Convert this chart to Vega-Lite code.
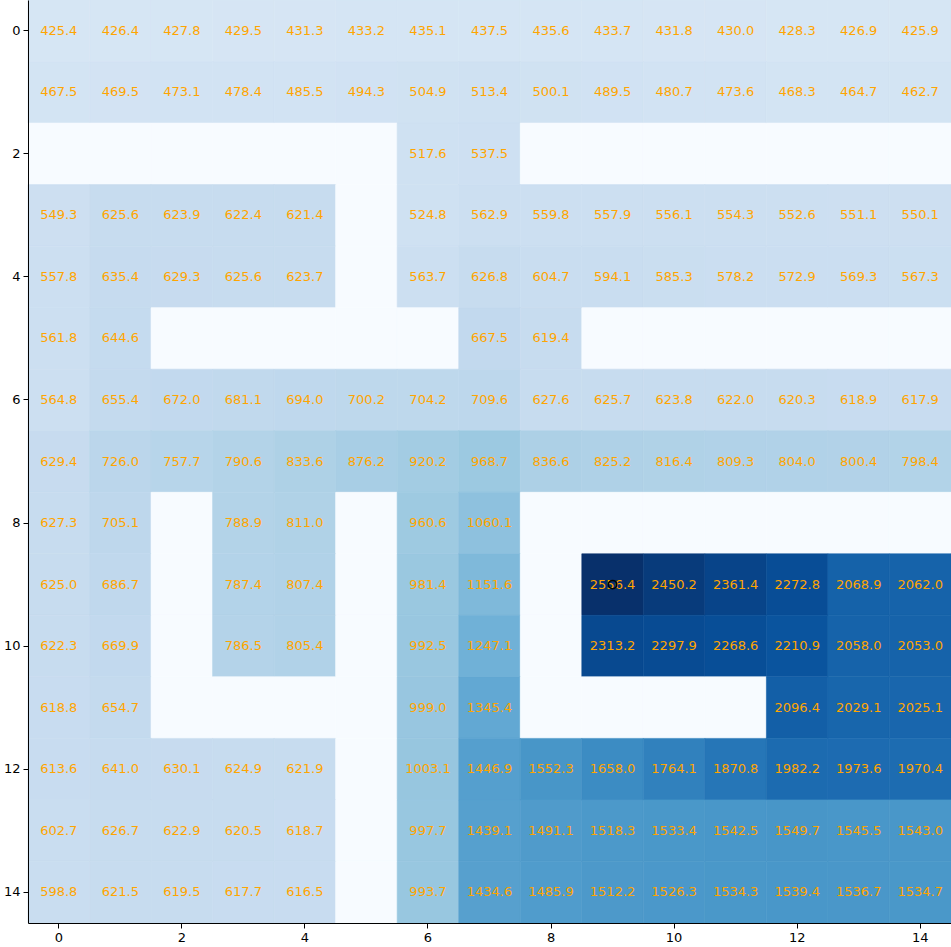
{
  "$schema": "https://vega.github.io/schema/vega-lite/v6.json",
  "width": 923,
  "height": 923,
  "autosize": {"type": "none"},
  "padding": {"left": 28, "top": 0, "right": 0, "bottom": 24},
  "background": "white",
  "config": {
    "view": {"stroke": null},
    "font": "DejaVu Sans",
    "axis": {
      "grid": false,
      "domainColor": "black",
      "domainWidth": 1,
      "tickColor": "black",
      "tickSize": 5,
      "tickWidth": 1,
      "labelColor": "black",
      "labelFontSize": 13,
      "labelFont": "DejaVu Sans",
      "labelPadding": 3,
      "title": null
    }
  },
  "datasets": {
    "cells": [
      {"r":0,"c":0,"v":425.4},{"r":0,"c":1,"v":426.4},{"r":0,"c":2,"v":427.8},{"r":0,"c":3,"v":429.5},{"r":0,"c":4,"v":431.3},{"r":0,"c":5,"v":433.2},{"r":0,"c":6,"v":435.1},{"r":0,"c":7,"v":437.5},{"r":0,"c":8,"v":435.6},{"r":0,"c":9,"v":433.7},{"r":0,"c":10,"v":431.8},{"r":0,"c":11,"v":430.0},{"r":0,"c":12,"v":428.3},{"r":0,"c":13,"v":426.9},{"r":0,"c":14,"v":425.9},
      {"r":1,"c":0,"v":467.5},{"r":1,"c":1,"v":469.5},{"r":1,"c":2,"v":473.1},{"r":1,"c":3,"v":478.4},{"r":1,"c":4,"v":485.5},{"r":1,"c":5,"v":494.3},{"r":1,"c":6,"v":504.9},{"r":1,"c":7,"v":513.4},{"r":1,"c":8,"v":500.1},{"r":1,"c":9,"v":489.5},{"r":1,"c":10,"v":480.7},{"r":1,"c":11,"v":473.6},{"r":1,"c":12,"v":468.3},{"r":1,"c":13,"v":464.7},{"r":1,"c":14,"v":462.7},
      {"r":2,"c":0,"v":0},{"r":2,"c":1,"v":0},{"r":2,"c":2,"v":0},{"r":2,"c":3,"v":0},{"r":2,"c":4,"v":0},{"r":2,"c":5,"v":0},{"r":2,"c":6,"v":517.6},{"r":2,"c":7,"v":537.5},{"r":2,"c":8,"v":0},{"r":2,"c":9,"v":0},{"r":2,"c":10,"v":0},{"r":2,"c":11,"v":0},{"r":2,"c":12,"v":0},{"r":2,"c":13,"v":0},{"r":2,"c":14,"v":0},
      {"r":3,"c":0,"v":549.3},{"r":3,"c":1,"v":625.6},{"r":3,"c":2,"v":623.9},{"r":3,"c":3,"v":622.4},{"r":3,"c":4,"v":621.4},{"r":3,"c":5,"v":0},{"r":3,"c":6,"v":524.8},{"r":3,"c":7,"v":562.9},{"r":3,"c":8,"v":559.8},{"r":3,"c":9,"v":557.9},{"r":3,"c":10,"v":556.1},{"r":3,"c":11,"v":554.3},{"r":3,"c":12,"v":552.6},{"r":3,"c":13,"v":551.1},{"r":3,"c":14,"v":550.1},
      {"r":4,"c":0,"v":557.8},{"r":4,"c":1,"v":635.4},{"r":4,"c":2,"v":629.3},{"r":4,"c":3,"v":625.6},{"r":4,"c":4,"v":623.7},{"r":4,"c":5,"v":0},{"r":4,"c":6,"v":563.7},{"r":4,"c":7,"v":626.8},{"r":4,"c":8,"v":604.7},{"r":4,"c":9,"v":594.1},{"r":4,"c":10,"v":585.3},{"r":4,"c":11,"v":578.2},{"r":4,"c":12,"v":572.9},{"r":4,"c":13,"v":569.3},{"r":4,"c":14,"v":567.3},
      {"r":5,"c":0,"v":561.8},{"r":5,"c":1,"v":644.6},{"r":5,"c":2,"v":0},{"r":5,"c":3,"v":0},{"r":5,"c":4,"v":0},{"r":5,"c":5,"v":0},{"r":5,"c":6,"v":0},{"r":5,"c":7,"v":667.5},{"r":5,"c":8,"v":619.4},{"r":5,"c":9,"v":0},{"r":5,"c":10,"v":0},{"r":5,"c":11,"v":0},{"r":5,"c":12,"v":0},{"r":5,"c":13,"v":0},{"r":5,"c":14,"v":0},
      {"r":6,"c":0,"v":564.8},{"r":6,"c":1,"v":655.4},{"r":6,"c":2,"v":672.0},{"r":6,"c":3,"v":681.1},{"r":6,"c":4,"v":694.0},{"r":6,"c":5,"v":700.2},{"r":6,"c":6,"v":704.2},{"r":6,"c":7,"v":709.6},{"r":6,"c":8,"v":627.6},{"r":6,"c":9,"v":625.7},{"r":6,"c":10,"v":623.8},{"r":6,"c":11,"v":622.0},{"r":6,"c":12,"v":620.3},{"r":6,"c":13,"v":618.9},{"r":6,"c":14,"v":617.9},
      {"r":7,"c":0,"v":629.4},{"r":7,"c":1,"v":726.0},{"r":7,"c":2,"v":757.7},{"r":7,"c":3,"v":790.6},{"r":7,"c":4,"v":833.6},{"r":7,"c":5,"v":876.2},{"r":7,"c":6,"v":920.2},{"r":7,"c":7,"v":968.7},{"r":7,"c":8,"v":836.6},{"r":7,"c":9,"v":825.2},{"r":7,"c":10,"v":816.4},{"r":7,"c":11,"v":809.3},{"r":7,"c":12,"v":804.0},{"r":7,"c":13,"v":800.4},{"r":7,"c":14,"v":798.4},
      {"r":8,"c":0,"v":627.3},{"r":8,"c":1,"v":705.1},{"r":8,"c":2,"v":0},{"r":8,"c":3,"v":788.9},{"r":8,"c":4,"v":811.0},{"r":8,"c":5,"v":0},{"r":8,"c":6,"v":960.6},{"r":8,"c":7,"v":1060.1},{"r":8,"c":8,"v":0},{"r":8,"c":9,"v":0},{"r":8,"c":10,"v":0},{"r":8,"c":11,"v":0},{"r":8,"c":12,"v":0},{"r":8,"c":13,"v":0},{"r":8,"c":14,"v":0},
      {"r":9,"c":0,"v":625.0},{"r":9,"c":1,"v":686.7},{"r":9,"c":2,"v":0},{"r":9,"c":3,"v":787.4},{"r":9,"c":4,"v":807.4},{"r":9,"c":5,"v":0},{"r":9,"c":6,"v":981.4},{"r":9,"c":7,"v":1151.6},{"r":9,"c":8,"v":0},{"r":9,"c":9,"v":2556.4},{"r":9,"c":10,"v":2450.2},{"r":9,"c":11,"v":2361.4},{"r":9,"c":12,"v":2272.8},{"r":9,"c":13,"v":2068.9},{"r":9,"c":14,"v":2062.0},
      {"r":10,"c":0,"v":622.3},{"r":10,"c":1,"v":669.9},{"r":10,"c":2,"v":0},{"r":10,"c":3,"v":786.5},{"r":10,"c":4,"v":805.4},{"r":10,"c":5,"v":0},{"r":10,"c":6,"v":992.5},{"r":10,"c":7,"v":1247.1},{"r":10,"c":8,"v":0},{"r":10,"c":9,"v":2313.2},{"r":10,"c":10,"v":2297.9},{"r":10,"c":11,"v":2268.6},{"r":10,"c":12,"v":2210.9},{"r":10,"c":13,"v":2058.0},{"r":10,"c":14,"v":2053.0},
      {"r":11,"c":0,"v":618.8},{"r":11,"c":1,"v":654.7},{"r":11,"c":2,"v":0},{"r":11,"c":3,"v":0},{"r":11,"c":4,"v":0},{"r":11,"c":5,"v":0},{"r":11,"c":6,"v":999.0},{"r":11,"c":7,"v":1345.4},{"r":11,"c":8,"v":0},{"r":11,"c":9,"v":0},{"r":11,"c":10,"v":0},{"r":11,"c":11,"v":0},{"r":11,"c":12,"v":2096.4},{"r":11,"c":13,"v":2029.1},{"r":11,"c":14,"v":2025.1},
      {"r":12,"c":0,"v":613.6},{"r":12,"c":1,"v":641.0},{"r":12,"c":2,"v":630.1},{"r":12,"c":3,"v":624.9},{"r":12,"c":4,"v":621.9},{"r":12,"c":5,"v":0},{"r":12,"c":6,"v":1003.1},{"r":12,"c":7,"v":1446.9},{"r":12,"c":8,"v":1552.3},{"r":12,"c":9,"v":1658.0},{"r":12,"c":10,"v":1764.1},{"r":12,"c":11,"v":1870.8},{"r":12,"c":12,"v":1982.2},{"r":12,"c":13,"v":1973.6},{"r":12,"c":14,"v":1970.4},
      {"r":13,"c":0,"v":602.7},{"r":13,"c":1,"v":626.7},{"r":13,"c":2,"v":622.9},{"r":13,"c":3,"v":620.5},{"r":13,"c":4,"v":618.7},{"r":13,"c":5,"v":0},{"r":13,"c":6,"v":997.7},{"r":13,"c":7,"v":1439.1},{"r":13,"c":8,"v":1491.1},{"r":13,"c":9,"v":1518.3},{"r":13,"c":10,"v":1533.4},{"r":13,"c":11,"v":1542.5},{"r":13,"c":12,"v":1549.7},{"r":13,"c":13,"v":1545.5},{"r":13,"c":14,"v":1543.0},
      {"r":14,"c":0,"v":598.8},{"r":14,"c":1,"v":621.5},{"r":14,"c":2,"v":619.5},{"r":14,"c":3,"v":617.7},{"r":14,"c":4,"v":616.5},{"r":14,"c":5,"v":0},{"r":14,"c":6,"v":993.7},{"r":14,"c":7,"v":1434.6},{"r":14,"c":8,"v":1485.9},{"r":14,"c":9,"v":1512.2},{"r":14,"c":10,"v":1526.3},{"r":14,"c":11,"v":1534.3},{"r":14,"c":12,"v":1539.4},{"r":14,"c":13,"v":1536.7},{"r":14,"c":14,"v":1534.7}
    ],
    "peak": [{"r": 9, "c": 9}]
  },
  "encoding": {
    "x": {
      "field": "c", "type": "ordinal",
      "scale": {"paddingInner": 0, "paddingOuter": 0, "domain": [0,1,2,3,4,5,6,7,8,9,10,11,12,13,14]},
      "axis": {"values": [0,2,4,6,8,10,12,14], "labelAngle": 0, "orient": "bottom"}
    },
    "y": {
      "field": "r", "type": "ordinal",
      "scale": {"paddingInner": 0, "paddingOuter": 0, "domain": [0,1,2,3,4,5,6,7,8,9,10,11,12,13,14]},
      "axis": {"values": [0,2,4,6,8,10,12,14], "orient": "left"}
    }
  },
  "layer": [
    {
      "data": {"name": "cells"},
      "mark": {"type": "rect", "strokeWidth": 0.6},
      "encoding": {
        "color": {
          "field": "v", "type": "quantitative",
          "scale": {"type": "linear", "domain": [0, 2556.4], "range": ["#f7fbff","#deebf7","#c6dbef","#9ecae1","#6baed6","#4292c6","#2171b5","#08519c","#08306b"], "interpolate": "rgb"},
          "legend": null
        },
        "stroke": {
          "field": "v", "type": "quantitative",
          "scale": {"type": "linear", "domain": [0, 2556.4], "range": ["#f7fbff","#deebf7","#c6dbef","#9ecae1","#6baed6","#4292c6","#2171b5","#08519c","#08306b"], "interpolate": "rgb"},
          "legend": null
        }
      }
    },
    {
      "data": {"name": "cells"},
      "transform": [{"filter": "datum.v > 0"}],
      "mark": {"type": "text", "color": "#ffa500", "fontSize": 13, "font": "DejaVu Sans", "align": "center", "baseline": "middle"},
      "encoding": {
        "text": {"field": "v", "type": "quantitative", "format": ".1f"}
      }
    },
    {
      "data": {"name": "peak"},
      "mark": {"type": "point", "shape": "circle", "filled": false, "stroke": "black", "strokeWidth": 1.5, "size": 70, "opacity": 1},
      "encoding": {}
    }
  ]
}
